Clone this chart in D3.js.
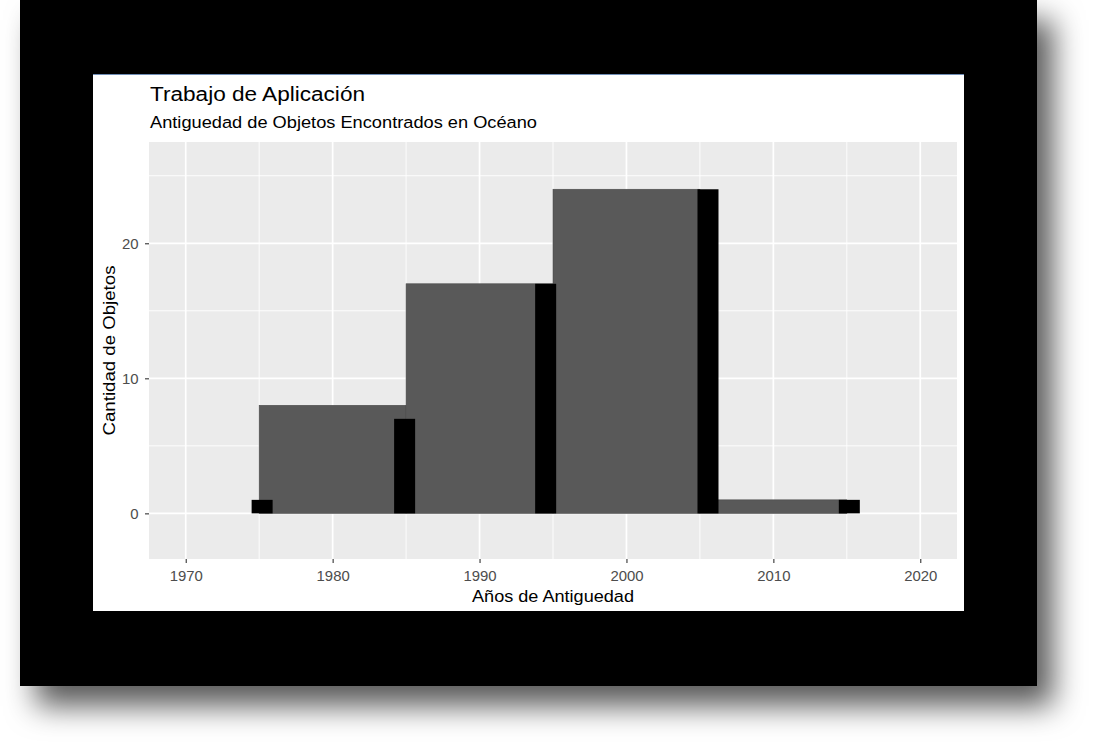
<!DOCTYPE html>
<html>
<head>
<meta charset="utf-8">
<script src="https://cdn.jsdelivr.net/npm/d3@7"></script>
<style>
  html, body { margin: 0; padding: 0; background: #ffffff; }
  svg { display: block; font-family: "Liberation Sans", Arial, sans-serif; }
</style>
</head>
<body>
<svg id="chart" width="1101" height="749"></svg>
<script>
// ---- data ----
const titleText = "Trabajo de Aplicación";
const subtitleText = "Antiguedad de Objetos Encontrados en Océano";
const xTitleText = "Años de Antiguedad";
const yTitleText = "Cantidad de Objetos";

// histogram bins (grey)
const binStarts = [1975, 1985, 1995, 2005];
const binEnds   = [1985, 1995, 2005, 2015];
const binCounts = [8, 17, 24, 1];

// narrow black bars
const barCenters = [1975.2, 1984.9, 1994.5, 2005.55, 2015.17];
const barCounts  = [1, 7, 17, 24, 1];

const xMajorTicks = [1970, 1980, 1990, 2000, 2010, 2020];
const xMinorTicks = [1975, 1985, 1995, 2005, 2015];
const yMajorTicks = [0, 10, 20];
const yMinorTicks = [5, 15, 25];

// ---- layout ----
const blackBarWidth = 1.43;
const panel = { left: 149, right: 957, top: 142, bottom: 559 };

const svg = d3.select("#chart");

// drop shadow filter
const defs = svg.append("defs");
const f = defs.append("filter").attr("id", "shadow")
  .attr("x", "-10%").attr("y", "-10%").attr("width", "130%").attr("height", "130%");
f.append("feDropShadow").attr("dx", 16).attr("dy", 20)
  .attr("stdDeviation", 15).attr("flood-color", "#000").attr("flood-opacity", 0.65);

svg.append("rect").attr("width", 1101).attr("height", 749).attr("fill", "#ffffff");
svg.append("rect").attr("x", 20).attr("y", 0).attr("width", 1017).attr("height", 686)
  .attr("fill", "#000").attr("filter", "url(#shadow)");
svg.append("rect").attr("x", 93).attr("y", 74).attr("width", 871).attr("height", 537)
  .attr("fill", "#ffffff");
svg.append("line").attr("x1", 93).attr("x2", 964).attr("y1", 74.5).attr("y2", 74.5)
  .attr("stroke", "#6f8db5").attr("stroke-width", 1);

const x = d3.scaleLinear().domain([1967.5, 2022.5]).range([panel.left, panel.right]);
const y = d3.scaleLinear().domain([-3.38, 27.5]).range([panel.bottom, panel.top]);

// panel background
svg.append("rect").attr("x", panel.left).attr("y", panel.top)
  .attr("width", panel.right - panel.left).attr("height", panel.bottom - panel.top)
  .attr("fill", "#EBEBEB");

const grid = svg.append("g");
grid.selectAll(".vmin").data(xMinorTicks).join("line")
  .attr("x1", d => x(d)).attr("x2", d => x(d)).attr("y1", panel.top).attr("y2", panel.bottom)
  .attr("stroke", "#fff").attr("stroke-width", 0.9);
grid.selectAll(".hmin").data(yMinorTicks).join("line")
  .attr("y1", d => y(d)).attr("y2", d => y(d)).attr("x1", panel.left).attr("x2", panel.right)
  .attr("stroke", "#fff").attr("stroke-width", 0.9);
grid.selectAll(".vmaj").data(xMajorTicks).join("line")
  .attr("x1", d => x(d)).attr("x2", d => x(d)).attr("y1", panel.top).attr("y2", panel.bottom)
  .attr("stroke", "#fff").attr("stroke-width", 1.7);
grid.selectAll(".hmaj").data(yMajorTicks).join("line")
  .attr("y1", d => y(d)).attr("y2", d => y(d)).attr("x1", panel.left).attr("x2", panel.right)
  .attr("stroke", "#fff").attr("stroke-width", 1.7);

// grey histogram bars
svg.append("g").selectAll("rect").data(binCounts).join("rect")
  .attr("x", (d, i) => x(binStarts[i]))
  .attr("width", (d, i) => x(binEnds[i]) - x(binStarts[i]))
  .attr("y", d => y(d))
  .attr("height", d => y(0) - y(d))
  .attr("fill", "#595959")
  .attr("stroke", "#4a4a4a").attr("stroke-width", 0.6);

// black bars
svg.append("g").selectAll("rect").data(barCounts).join("rect")
  .attr("x", (d, i) => x(barCenters[i] - blackBarWidth / 2))
  .attr("width", (d, i) => x(barCenters[i] + blackBarWidth / 2) - x(barCenters[i] - blackBarWidth / 2))
  .attr("y", d => y(d))
  .attr("height", d => y(0) - y(d))
  .attr("fill", "#000");

// axes
const xAxis = svg.append("g").attr("transform", `translate(0,${panel.bottom})`)
  .call(d3.axisBottom(x).tickValues(xMajorTicks).tickFormat(d3.format("d")).tickSize(4).tickPadding(8));
const yAxis = svg.append("g").attr("transform", `translate(${panel.left},0)`)
  .call(d3.axisLeft(y).tickValues(yMajorTicks).tickFormat(d3.format("d")).tickSize(4).tickPadding(6.5));
[xAxis, yAxis].forEach(a => {
  a.select(".domain").remove();
  a.selectAll(".tick line").attr("stroke", "#333333").attr("stroke-width", 1.1);
  a.selectAll(".tick text").attr("fill", "#4D4D4D").attr("font-size", 14.2)
    .attr("font-family", "'Liberation Sans', Arial, sans-serif");
});
yAxis.selectAll(".tick text").attr("dy", "0.36em");

// titles
const title = svg.append("text").attr("x", 150).attr("y", 100.7)
  .attr("font-size", 19.6).attr("fill", "#000").text(titleText);
const subtitle = svg.append("text").attr("x", 150).attr("y", 128.3)
  .attr("font-size", 16.3).attr("fill", "#000").text(subtitleText);
const xTitle = svg.append("text").attr("x", (panel.left + panel.right) / 2).attr("y", 601.7)
  .attr("text-anchor", "middle").attr("font-size", 16.3).attr("fill", "#000").text(xTitleText);
const yTitle = svg.append("text")
  .attr("transform", `translate(114.5,${(panel.top + panel.bottom) / 2}) rotate(-90)`)
  .attr("text-anchor", "middle").attr("font-size", 16.3).attr("fill", "#000").text(yTitleText);

// widen glyphs to match the reference's hinted text widths
function fit(sel, w) { sel.attr("textLength", w).attr("lengthAdjust", "spacingAndGlyphs"); }
fit(title, 215);
fit(subtitle, 387);
fit(xTitle, 162);
fit(yTitle, 170);
svg.selectAll(".tick text").each(function () {
  const t = d3.select(this);
  fit(t, this.getComputedTextLength() * 1.05);
});
</script>
</body>
</html>
